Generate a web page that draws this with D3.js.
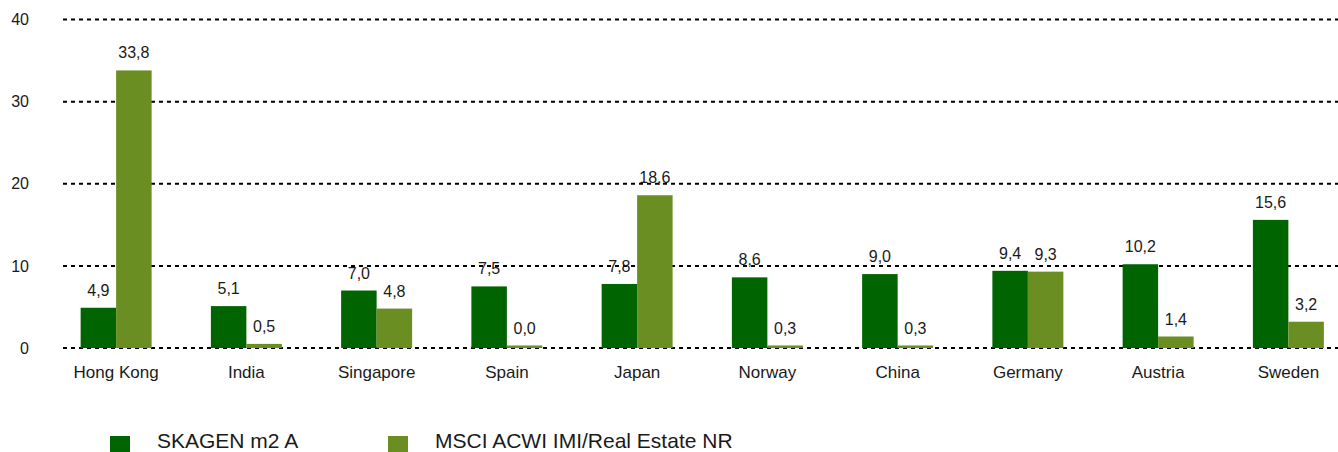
<!DOCTYPE html>
<html><head><meta charset="utf-8">
<script src="https://cdn.jsdelivr.net/npm/d3@7"></script>
<style>body{margin:0;background:#fff}svg{display:block}text{font-family:"Liberation Sans",Arial,sans-serif;fill:#1a1a1a}</style>
</head><body><svg id="c" width="1338" height="452"></svg>
<script>
const categories = ["Hong Kong","India","Singapore","Spain","Japan","Norway","China","Germany","Austria","Sweden"];
const seriesNames = ["SKAGEN m2 A","MSCI ACWI IMI/Real Estate NR"];
const skagen = [4.9,5.1,7.0,7.5,7.8,8.6,9.0,9.4,10.2,15.6];
const msci = [33.8,0.5,4.8,0.0,18.6,0.3,0.3,9.3,1.4,3.2];
const yTicks = [0,10,20,30,40];
const colors = ["#006400","#6b8e23"];

const svg = d3.select("#c");
const y = d3.scaleLinear().domain([0,40]).range([348,19.5]);
const x = d3.scaleBand().domain(categories).range([51,1353.5]).paddingInner(0.455).paddingOuter(0.2275);
const x1 = d3.scaleBand().domain([0,1]).range([0,x.bandwidth()]);
const fmt = v => v.toFixed(1).replace(".",",");

// grid
const grid = svg.append("g");
grid.selectAll("line").data(yTicks).join("line")
  .attr("x1",63).attr("x2",1338).attr("y1",d=>y(d)).attr("y2",d=>y(d))
  .attr("stroke","#000").attr("stroke-width",2).attr("stroke-dasharray","4,4");
const yAxis = d3.axisLeft(y).tickValues(yTicks).tickSize(0).tickPadding(0).tickFormat(d3.format("d"));
const ya = svg.append("g").attr("transform","translate(29,0)").call(yAxis);
ya.select(".domain").remove();
ya.selectAll("text").attr("font-size",16).attr("fill","#1a1a1a").attr("font-family","Liberation Sans, Arial, sans-serif");

const rows = categories.map((c,i)=>({c, vals:[skagen[i], msci[i]]}));
const g = svg.append("g");
rows.forEach(r=>{
  r.vals.forEach((v,k)=>{
    const bx = x(r.c)+x1(k);
    const top = Math.min(y(v), y(0)-2.5);
    g.append("rect").attr("x",bx).attr("y",top).attr("width",x1.bandwidth()).attr("height",y(0)-top).attr("fill",colors[k]);
    g.append("text").attr("x",bx+x1.bandwidth()/2).attr("y",top-12).attr("text-anchor","middle").attr("font-size",16).text(fmt(v));
  });
});

// x axis labels
const xAxis = d3.axisBottom(x).tickSize(0).tickPadding(0);
const xa = svg.append("g").attr("transform","translate(0,366)").call(xAxis);
xa.select(".domain").remove();
xa.selectAll("text").attr("font-size",17).attr("fill","#1a1a1a").attr("font-family","Liberation Sans, Arial, sans-serif").attr("dy","0.71em");

// legend
const legX = [110,388];
seriesNames.forEach((n,k)=>{
  svg.append("rect").attr("x",legX[k]).attr("y",436).attr("width",20).attr("height",20).attr("fill",colors[k]);
  svg.append("text").attr("x",legX[k]+47).attr("y",448).attr("font-size",21).text(n);
});
</script></body></html>
